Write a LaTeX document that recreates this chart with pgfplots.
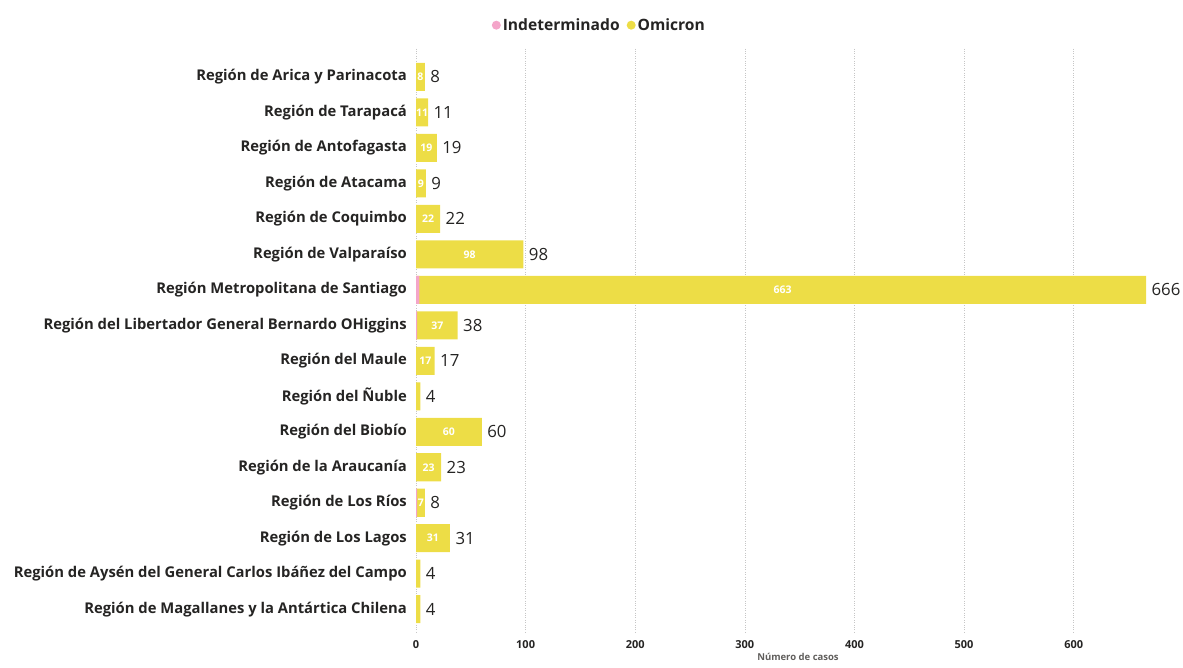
\documentclass[border=0pt]{standalone}
\usepackage{pgfplots}
\pgfplotsset{compat=1.18}
\usepackage{fontspec}
\setmainfont{Open Sans}
\definecolor{omi}{HTML}{EDDD46}
\definecolor{ind}{HTML}{F4A5C9}
\definecolor{txt}{HTML}{252423}
\definecolor{axt}{HTML}{605E5C}

\begin{document}
\begin{tikzpicture}
\useasboundingbox (0pt,0pt) rectangle (1183pt,667pt);
\begin{axis}[
  at={(416pt,33pt)}, anchor=south west,
  scale only axis, width=764pt, height=585.4pt,
  xbar, bar width=0.79, bar shift=0pt,
  xmin=0, xmax=697,
  ymin=-0.8, ymax=15.7, y dir=reverse,
  ytick={0,...,15},
  yticklabels={
    Región de Arica y Parinacota,
    Región de Tarapacá,
    Región de Antofagasta,
    Región de Atacama,
    Región de Coquimbo,
    Región de Valparaíso,
    Región Metropolitana de Santiago,
    Región del Libertador General Bernardo OHiggins,
    Región del Maule,
    Región del Ñuble,
    Región del Biobío,
    Región de la Araucanía,
    Región de Los Ríos,
    Región de Los Lagos,
    Región de Aysén del General Carlos Ibáñez del Campo,
    Región de Magallanes y la Antártica Chilena},
  xtick={0,100,...,600},
  axis line style={draw=none}, major tick length=0pt,
  xmajorgrids, grid style={dotted, gray!45},
  yticklabel style={anchor=east, inner sep=0pt, xshift=-9pt, text=txt,
    font=\bfseries\fontsize{14.8}{17}\selectfont},
  xticklabel style={inner sep=0pt, yshift=-6pt, text=txt,
    font=\bfseries\fontsize{11}{13}\selectfont},
  /pgf/number format/assume math mode=true,
  xlabel={Número de casos},
  xlabel style={font=\bfseries\fontsize{9.5}{11}\selectfont, text=axt, yshift=-1pt},
  clip=false,
  legend style={at={(0.24,1.04)}, anchor=center, draw=none, fill=none,
    legend columns=2, text=txt,
    font=\bfseries\fontsize{15.6}{18}\selectfont,
    /tikz/every even column/.append style={column sep=5pt},
    legend cell align=left, inner sep=0pt},
  legend image code/.code={\fill[#1] (0.12cm,0pt) circle (4.5pt);},
]
% total (Omicron + Indeterminado), yellow, with the total at the bar end
\addplot[forget plot, fill=omi, draw=none,
  nodes near coords,
  nodes near coords style={anchor=west, xshift=2pt, text=txt,
    font=\fontsize{16.8}{18}\selectfont}]
  coordinates {
  (8,0) (11,1) (19,2) (9,3) (22,4) (98,5) (666,6) (38,7)
  (17,8) (4,9) (60,10) (23,11) (8,12) (31,13) (4,14) (4,15)};
% Indeterminado, drawn over the start of the bar
\addplot[forget plot, fill=ind, draw=none]
  coordinates {(3,6) (1,7) (1,12)};
% Omicron value, centred in its segment
\addplot[forget plot, only marks, mark=none,
  point meta=explicit symbolic,
  nodes near coords,
  nodes near coords style={anchor=center, text=white,
    font=\bfseries\fontsize{10.5}{12}\selectfont}]
  coordinates {
  (4,0) [8] (5.5,1) [11] (9.5,2) [19] (4.5,3) [9] (11,4) [22]
  (49,5) [98] (334.5,6) [663] (19.5,7) [37] (8.5,8) [17]
  (30,10) [60] (11.5,11) [23] (4.5,12) [7] (15.5,13) [31]};
\addlegendimage{fill=ind, draw=none}
\addlegendentry{Indeterminado}
\addlegendimage{fill=omi, draw=none}
\addlegendentry{Omicron}
\end{axis}
\end{tikzpicture}
\end{document}
